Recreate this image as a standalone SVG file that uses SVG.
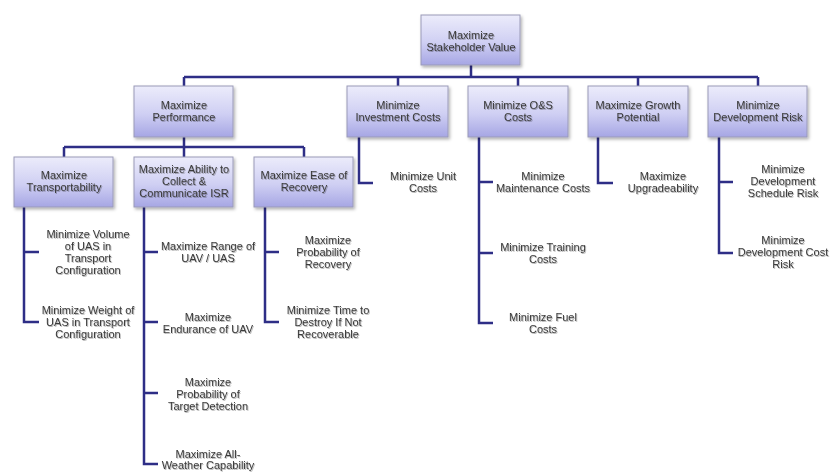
<svg xmlns="http://www.w3.org/2000/svg" width="838" height="472" viewBox="0 0 838 472">
<defs>
<linearGradient id="boxg" x1="0" y1="0" x2="0" y2="1">
<stop offset="0" stop-color="#ececfb"/>
<stop offset="0.55" stop-color="#cfcff3"/>
<stop offset="1" stop-color="#a6a6e4"/>
</linearGradient>
<filter id="bshadow" x="-10%" y="-10%" width="125%" height="130%">
<feDropShadow dx="1.5" dy="2" stdDeviation="1.5" flood-color="#000" flood-opacity="0.3"/>
</filter>
<filter id="tshadow" x="-5%" y="-20%" width="115%" height="150%">
<feDropShadow dx="0.8" dy="1" stdDeviation="0.7" flood-color="#000" flood-opacity="0.3"/>
</filter>
</defs>
<style>
.box{fill:url(#boxg);stroke:#9a9ab8;stroke-width:1;filter:url(#bshadow)}
text{font-family:"Liberation Sans",Arial,sans-serif;font-size:11px;fill:#3a3a3a;text-anchor:middle;filter:url(#tshadow)}
.con{fill:none;stroke:#2e2e86;stroke-width:2.5}
</style>
<rect width="838" height="472" fill="#ffffff"/>
<g id="connectors" class="con">
<path class="con" d="M471 65V77M184 77H758M184 77V86M398 77V86M518 77V86M638 77V86M758 77V86"/>
<path class="con" d="M184 137V147M64 147H304M64 147V157M184 147V157M304 147V157"/>
<path class="con" d="M24 207V322H39M24 252H39"/>
<path class="con" d="M144 207V464H158M144 252H158M144 322H158M144 393H158"/>
<path class="con" d="M265 207V322H279M265 252H279"/>
<path class="con" d="M359 137V183H373"/>
<path class="con" d="M479 137V323H493M479 182H493M479 253H493"/>
<path class="con" d="M598 137V183H613"/>
<path class="con" d="M719 137V253H733M719 182H733"/>
</g>
<g id="n-stakeholder"><rect class="box" x="421" y="15" width="99" height="50"/><text x="471" y="39">Maximize</text><text x="471" y="51">Stakeholder Value</text></g>
<g id="n-performance"><rect class="box" x="134" y="86" width="99" height="51"/><text x="184" y="109">Maximize</text><text x="184" y="121">Performance</text></g>
<g id="n-investment"><rect class="box" x="347" y="86" width="101" height="51"/><text x="398" y="109">Minimize</text><text x="398" y="121">Investment Costs</text></g>
<g id="n-os"><rect class="box" x="468" y="86" width="100" height="51"/><text x="518" y="109">Minimize O&amp;S</text><text x="518" y="121">Costs</text></g>
<g id="n-growth"><rect class="box" x="588" y="86" width="100" height="51"/><text x="638" y="109">Maximize Growth</text><text x="638" y="121">Potential</text></g>
<g id="n-devrisk"><rect class="box" x="708" y="86" width="99" height="51"/><text x="758" y="109">Minimize</text><text x="758" y="121">Development Risk</text></g>
<g id="n-transport"><rect class="box" x="14" y="157" width="99" height="50"/><text x="64" y="179">Maximize</text><text x="64" y="191">Transportability</text></g>
<g id="n-isr"><rect class="box" x="134" y="157" width="99" height="50"/><text x="184" y="173">Maximize Ability to</text><text x="184" y="185">Collect &amp;</text><text x="184" y="197">Communicate ISR</text></g>
<g id="n-recovery"><rect class="box" x="254" y="157" width="99" height="50"/><text x="304" y="179">Maximize Ease of</text><text x="304" y="191">Recovery</text></g>
<g id="n-volume"><text x="88" y="238">Minimize Volume</text><text x="88" y="250">of UAS in</text><text x="88" y="262">Transport</text><text x="88" y="274">Configuration</text></g>
<g id="n-weight"><text x="88" y="314">Minimize Weight of</text><text x="88" y="326">UAS in Transport</text><text x="88" y="338">Configuration</text></g>
<g id="n-range"><text x="208" y="250">Maximize Range of</text><text x="208" y="262">UAV / UAS</text></g>
<g id="n-endurance"><text x="208" y="321">Maximize</text><text x="208" y="333">Endurance of UAV</text></g>
<g id="n-detection"><text x="208" y="386">Maximize</text><text x="208" y="398">Probability of</text><text x="208" y="410">Target Detection</text></g>
<g id="n-weather"><text x="208" y="458">Maximize All-</text><text x="208" y="469">Weather Capability</text></g>
<g id="n-probrec"><text x="328" y="244">Maximize</text><text x="328" y="256">Probability of</text><text x="328" y="268">Recovery</text></g>
<g id="n-destroy"><text x="328" y="314">Minimize Time to</text><text x="328" y="326">Destroy If Not</text><text x="328" y="338">Recoverable</text></g>
<g id="n-unit"><text x="423" y="180">Minimize Unit</text><text x="423" y="192">Costs</text></g>
<g id="n-maint"><text x="543" y="180">Minimize</text><text x="543" y="192">Maintenance Costs</text></g>
<g id="n-training"><text x="543" y="251">Minimize Training</text><text x="543" y="263">Costs</text></g>
<g id="n-fuel"><text x="543" y="321">Minimize Fuel</text><text x="543" y="333">Costs</text></g>
<g id="n-upgrade"><text x="663" y="180">Maximize</text><text x="663" y="192">Upgradeability</text></g>
<g id="n-schedule"><text x="783" y="173">Minimize</text><text x="783" y="185">Development</text><text x="783" y="197">Schedule Risk</text></g>
<g id="n-devcost"><text x="783" y="244">Minimize</text><text x="783" y="256">Development Cost</text><text x="783" y="268">Risk</text></g>
</svg>
